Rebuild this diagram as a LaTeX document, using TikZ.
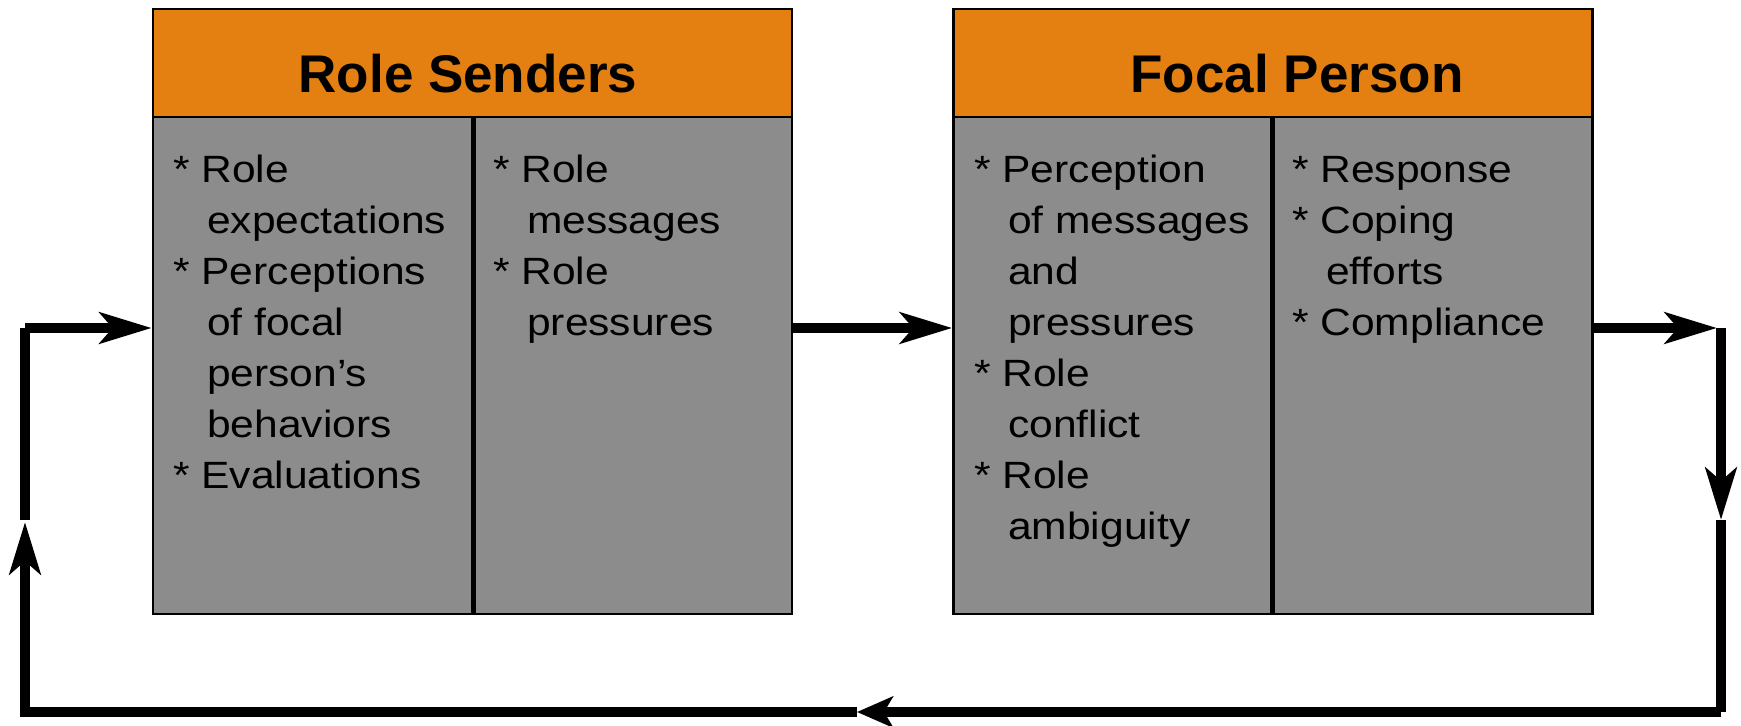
\documentclass[tikz,border=0pt]{standalone}
\usepackage{fontspec}
\setmainfont{Liberation Sans}
\newfontfamily\bodyfont[FakeStretch=1.12]{Liberation Sans}
\usetikzlibrary{arrows.meta}

\definecolor{headerorange}{HTML}{E48012}
\definecolor{panelgray}{HTML}{8C8C8C}

\tikzset{
  headbox/.style={draw=black, line width=2.5bp, fill=headerorange, inner sep=0,
                  minimum width=639bp, minimum height=108bp},
  bodybox/.style={draw=black, line width=2.5bp, fill=panelgray, inner sep=0,
                  minimum width=639bp, minimum height=497bp},
  divider/.style={draw=black, line width=5bp},
  title/.style={font=\fontsize{53bp}{60bp}\selectfont\bfseries, anchor=base, inner sep=0},
  item/.style={font=\bodyfont\fontsize{38bp}{51bp}\selectfont, anchor=base west, inner sep=0},
  flow/.style={line width=10bp, -{Stealth[length=52bp,width=31bp,inset=13bp]}},
  shortflow/.style={line width=10bp, -{Stealth[length=36bp,width=31bp,inset=9bp]}},
  plain/.style={line width=10bp}
}

\begin{document}
\begin{tikzpicture}[x=1bp, y=-1bp]
  \useasboundingbox (0,0) rectangle (1741,726);

  % Role senders panel
  \node[bodybox] (rsBody) at (472.5,365.5) {};
  \node[headbox] (rsHead) at (472.5,63) {};
  \draw[divider] (473,117) -- (473,614);
  \node[title] (rsTitle) at (468,93) {Role Senders};

  % Focal person panel
  \node[bodybox] (fpBody) at (1273,365.5) {};
  \node[headbox] (fpHead) at (1273,63) {};
  \draw[divider] (1272,117) -- (1272,614);
  \node[title] (fpTitle) at (1297,93) {Focal Person};

  % Role senders, first column
  \node[item] (rsa1) at (173,182) {* Role};
  \node[item] (rsa2) at (207,233) {expectations};
  \node[item] (rsa3) at (173,284) {* Perceptions};
  \node[item] (rsa4) at (207,335) {of focal};
  \node[item] (rsa5) at (207,386) {person’s};
  \node[item] (rsa6) at (207,437) {behaviors};
  \node[item] (rsa7) at (173,488) {* Evaluations};

  % Role senders, second column
  \node[item] (rsb1) at (493,182) {* Role};
  \node[item] (rsb2) at (527,233) {messages};
  \node[item] (rsb3) at (493,284) {* Role};
  \node[item] (rsb4) at (527,335) {pressures};

  % Focal person, first column
  \node[item] (fpa1) at (974,182) {* Perception};
  \node[item] (fpa2) at (1008,233) {of messages};
  \node[item] (fpa3) at (1008,284) {and};
  \node[item] (fpa4) at (1008,335) {pressures};
  \node[item] (fpa5) at (974,386) {* Role};
  \node[item] (fpa6) at (1008,437) {conflict};
  \node[item] (fpa7) at (974,488) {* Role};
  \node[item] (fpa8) at (1008,539) {ambiguity};

  % Focal person, second column
  \node[item] (fpb1) at (1292,182) {* Response};
  \node[item] (fpb2) at (1292,233) {* Coping};
  \node[item] (fpb3) at (1326,284) {efforts};
  \node[item] (fpb4) at (1292,335) {* Compliance};

  % Feedback loop corners
  \coordinate (lane)  at (0,328);
  \coordinate (loopTL) at (25,328);
  \coordinate (loopLB) at (25,520);
  \coordinate (loopLT) at (25,522);
  \coordinate (loopBL) at (25,712);
  \coordinate (loopMid) at (857,712);
  \coordinate (loopBR) at (1721,712);
  \coordinate (loopRB) at (1721,520);
  \coordinate (loopTR) at (1721,328);
  \coordinate (loopTRin) at (1717,328);

  % Forward flow
  \draw[flow] (rsBody.east |- lane) -- (fpBody.west |- lane);
  \draw[flow] (fpBody.east |- lane) -- (loopTRin);
  \draw[flow] (loopTR) -- (loopRB);

  % Feedback path
  \draw[plain] (loopRB) -- (loopBR);
  \draw[shortflow] (loopBR) -- (loopMid);
  \draw[flow, line join=miter] (loopMid) -- (loopBL) -- (loopLT);
  \draw[plain] (loopLB) -- (loopTL);
  \draw[flow] (loopTL) -- (rsBody.west |- lane);
\end{tikzpicture}
\end{document}
